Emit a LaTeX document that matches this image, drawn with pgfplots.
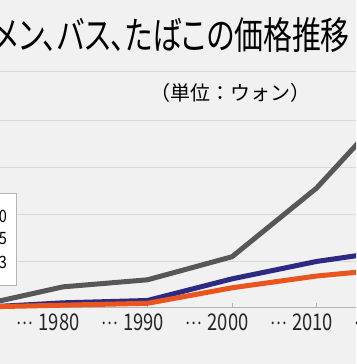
\documentclass[border=0pt]{standalone}
\usepackage{pgfplots}
\pgfplotsset{compat=1.18}
\usepackage{fontspec}
\setmainfont{Noto Sans CJK JP}
\newfontfamily\titlefont[RawFeature=+palt]{Noto Sans CJK JP}
\definecolor{bg}{HTML}{F1F1F1}
\definecolor{gridc}{HTML}{D9D9D9}
\definecolor{axc}{HTML}{B4B4B4}
\definecolor{tob}{HTML}{575757}
\definecolor{bus}{HTML}{2D2A84}
\definecolor{ram}{HTML}{E9541F}
\newcommand{\dd}{\raisebox{0.26em}{\scalebox{0.85}{…}}\hspace{0.3em}}
\begin{document}
\begin{tikzpicture}[x=1pt,y=1pt]
\useasboundingbox (0,0) rectangle (356,364);
\clip (0,0) rectangle (356,364);
\fill[bg] (0,0) rectangle (356,364);
% title
\node[anchor=east, inner sep=0pt] at (350,329) {\scalebox{0.76}[1]{\titlefont\fontsize{38}{40}\selectfont メン、バス、たばこの価格推移}};
\draw[gridc, line width=1pt] (0,292) -- (356,292);
\node[inner sep=0pt] at (230,271) {\scalebox{1.0}[1]{\fontsize{20}{22}\selectfont （単位：ウォン）}};
\begin{axis}[
  at={(-21.5pt,56pt)}, anchor=south west,
  scale only axis, width=422.5pt, height=188pt,
  xmin=1970, xmax=2020, ymin=0, ymax=4000,
  clip=false,
  axis x line*=bottom, axis y line*=left,
  x axis line style={-, color=axc, line width=1pt},
  y axis line style={draw=none},
  ytick={1000,2000,3000,4000}, yticklabels={},
  ytick style={draw=none},
  ymajorgrids, grid style={color=gridc, line width=1pt},
  xtick={1970,1980,1990,2000,2010,2020},
  xticklabels={{\dd 1970},{\dd 1980},{\dd 1990},{\dd 2000},{\dd 2010},{\dd 2020}},
  xtick style={color=axc, line width=0.8pt},
  major tick length=5pt, tick align=inside,
  xticklabel style={xshift=-15pt, yshift=-2pt, font=\fontsize{23}{25}\selectfont, text=black!85, xscale=0.8},
]
\addplot[tob, line width=5pt, line join=round] coordinates {(1970,50) (1980,450) (1990,600) (2000,1090) (2010,2550) (2020,4500)};
\addplot[bus, line width=5pt, line join=round] coordinates {(1970,10) (1980,110) (1990,160) (2000,620) (2010,990) (2020,1250)};
\addplot[ram, line width=5pt, line join=round] coordinates {(1970,20) (1980,60) (1990,100) (2000,430) (2010,680) (2020,850)};
\end{axis}
% legend box (cut at the left edge)
\draw[fill=white, draw=axc, line width=0.8pt] (-20,79) rectangle (16,171);
\node[anchor=east, inner sep=0pt] at (7,148) {\scalebox{0.85}[1]{\fontsize{17}{19}\selectfont 0}};
\node[anchor=east, inner sep=0pt] at (7,125) {\scalebox{0.85}[1]{\fontsize{17}{19}\selectfont 5}};
\node[anchor=east, inner sep=0pt] at (7,102) {\scalebox{0.85}[1]{\fontsize{17}{19}\selectfont 3}};
\end{tikzpicture}
\end{document}
